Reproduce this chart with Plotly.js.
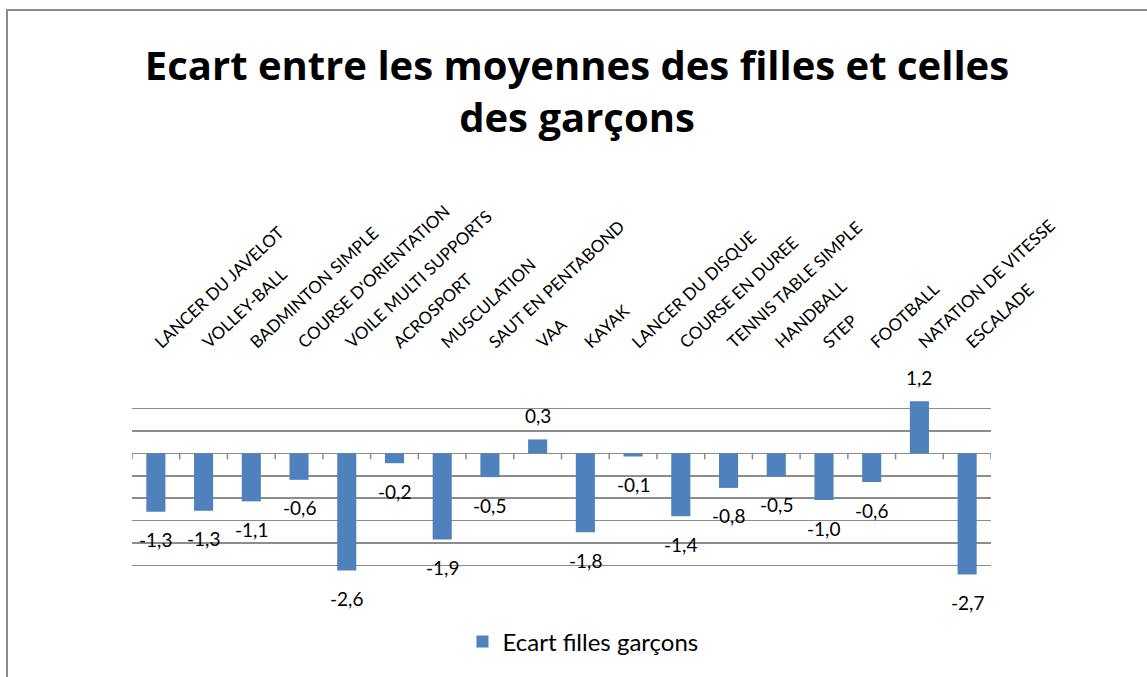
<!DOCTYPE html>
<html>
<head>
<meta charset="utf-8">
<script src="https://cdn.plot.ly/plotly-3.0.1.min.js"></script>
<style>
  html, body { margin: 0; padding: 0; background: #fff; }
  #wrap { position: relative; width: 1147px; height: 677px; overflow: hidden; }
  #chart { position: absolute; left: 0; top: 0; width: 1147px; height: 677px; }
  #frame { position: absolute; left: 6px; top: 9px; width: 2000px; height: 2000px;
           border: 2px solid #8c8c8c; pointer-events: none; box-sizing: border-box; }
</style>
</head>
<body>
<div id="wrap">
  <div id="chart"></div>
  <div id="frame"></div>
</div>
<script>
// ---- data ----
const categories = [
  "LANCER DU JAVELOT", "VOLLEY-BALL", "BADMINTON SIMPLE", "COURSE D'ORIENTATION",
  "VOILE MULTI SUPPORTS", "ACROSPORT", "MUSCULATION", "SAUT EN PENTABOND",
  "VAA", "KAYAK", "LANCER DU DISQUE", "COURSE EN DUREE",
  "TENNIS TABLE SIMPLE", "HANDBALL", "STEP", "FOOTBALL",
  "NATATION DE VITESSE", "ESCALADE"
];
const ecartValues = [
  -1.30, -1.28, -1.07, -0.59, -2.61, -0.22, -1.92, -0.53,
  0.31, -1.76, -0.07, -1.40, -0.77, -0.52, -1.04, -0.64,
  1.16, -2.70
];
const seriesName = "Ecart filles garçons";
const titleText = "Ecart entre les moyennes des filles et celles<br>des garçons";

function fmt(v) { return v.toFixed(1).replace('.', ','); }

const FONT = 'Lato, "Open Sans", sans-serif';
const TFONT = '"Open Sans", Lato, sans-serif';

const trace = {
  type: 'bar',
  x: categories,
  y: ecartValues,
  name: seriesName,
  marker: { color: '#4f81bd' },
  hoverinfo: 'x+y'
};

const annotations = categories.map((c, i) => ({
  x: c, y: ecartValues[i], xref: 'x', yref: 'y',
  text: fmt(ecartValues[i]), showarrow: false,
  yshift: ecartValues[i] < 0 ? -28 : 24,
  font: { family: FONT, size: 19, color: '#000' }
}));

const shapes = [];
for (let i = 0; i <= categories.length; i++) {
  shapes.push({
    type: 'line', xref: 'x', yref: 'y', x0: i - 0.5, x1: i - 0.5,
    ysizemode: 'pixel', yanchor: 0, y0: 0, y1: -6,
    line: { color: '#8c8c8c', width: 1.5 }
  });
}

const layout = {
  width: 1147, height: 677,
  margin: { l: 132, r: 156, t: 386, b: 89, pad: 0 },
  paper_bgcolor: '#fff', plot_bgcolor: '#fff',
  font: { family: FONT, color: '#000' },
  title: {
    text: titleText,
    font: { family: TFONT, size: 40, weight: 'bold', color: '#000' },
    x: 577 / 1147, xanchor: 'center', xref: 'container',
    y: 1 - 80 / 677, yanchor: 'middle', yref: 'container'
  },
  bargap: 0.6,
  showlegend: true,
  legend: {
    orientation: 'h', x: 0.525, xanchor: 'center', xref: 'paper',
    y: 1 - 642 / 677, yanchor: 'middle', yref: 'container',
    font: { family: FONT, size: 24, color: '#000' },
    itemwidth: 30
  },
  xaxis: {
    type: 'category', side: 'top', tickangle: -43,
    showgrid: false, showline: false, ticks: '', zeroline: false,
    ticklabelstandoff: 30,
    tickfont: { family: FONT, size: 17, color: '#000' },
    range: [-0.5, categories.length - 0.5]
  },
  yaxis: {
    range: [-3, 1.5], dtick: 0.5, tick0: 0,
    showticklabels: false, ticks: '',
    showgrid: true, gridcolor: '#8c8c8c', gridwidth: 1.5,
    zeroline: true, zerolinecolor: '#8c8c8c', zerolinewidth: 1.5,
    showline: false
  },
  annotations: annotations,
  shapes: shapes
};

Plotly.newPlot('chart', [trace], layout, { displayModeBar: false, staticPlot: true });
</script>
</body>
</html>
